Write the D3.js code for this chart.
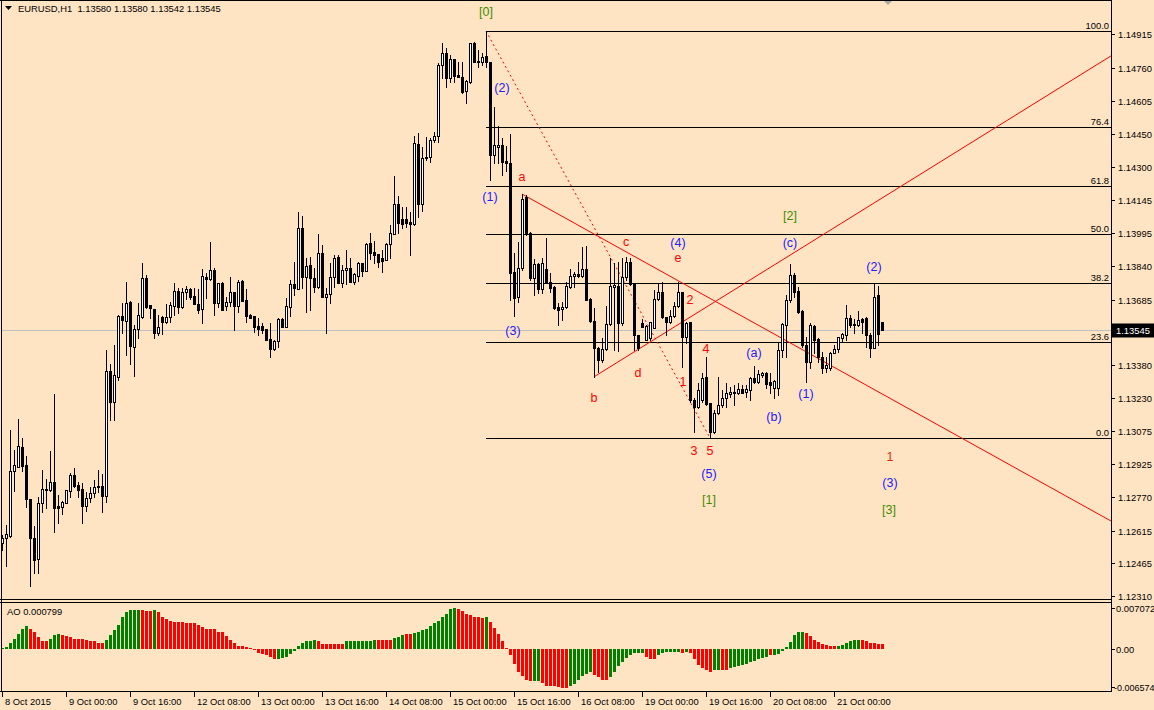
<!DOCTYPE html>
<html><head><meta charset="utf-8">
<script src="https://cdn.jsdelivr.net/npm/d3@7"></script>
<style>
html,body{margin:0;padding:0;background:#FFE4C4;}
svg{display:block;font-family:"Liberation Sans",Arial,sans-serif;}
</style></head>
<body><svg id="c" width="1154" height="710"></svg>
<script>
// ---------------- DATA ----------------
const symbol = "EURUSD,H1";
const lastQuote = ["1.13580","1.13580","1.13542","1.13545"];

const open = [
1.12557,1.12580,1.12589,1.12890,1.12910,1.13002,1.12919,1.12761,1.12580,1.12483,
1.12742,1.12803,1.12803,1.12840,1.12728,1.12724,1.12742,1.12798,1.12872,1.12826,
1.12807,1.12728,1.12766,1.12789,1.12817,1.12821,1.12775,1.13354,1.13211,1.13327,
1.13609,1.13585,1.13674,1.13465,1.13549,1.13604,1.13785,1.13660,1.13641,1.13530,
1.13604,1.13581,1.13604,1.13655,1.13724,1.13651,1.13720,1.13734,1.13701,1.13664,
1.13641,1.13790,1.13780,1.13822,1.13669,1.13762,1.13655,1.13674,1.13720,1.13655,
1.13771,1.13683,1.13614,1.13609,1.13562,1.13562,1.13549,1.13502,1.13456,1.13493,
1.13595,1.13558,1.13651,1.13757,1.13734,1.14017,1.13790,1.13845,1.13785,1.13743,
1.13901,1.13697,1.13711,1.13790,1.13882,1.13762,1.13822,1.13831,1.13767,1.13794,
1.13854,1.13817,1.13947,1.13906,1.13896,1.13878,1.13868,1.13942,1.13988,1.14127,
1.14058,1.14058,1.14045,1.14035,1.14405,1.14127,1.14341,1.14346,1.14424,1.14443,
1.14772,1.14827,1.14712,1.14800,1.14726,1.14717,1.14651,1.14693,1.14874,1.14786,
1.14786,1.14813,1.14786,1.14355,1.14392,1.14401,1.14327,1.14318,1.13813,1.13697,
1.13831,1.14160,1.13993,1.13785,1.13850,1.13734,1.13826,1.13767,1.13743,1.13651,
1.13641,1.13651,1.13743,1.13794,1.13803,1.13794,1.13826,1.13688,1.13585,1.13460,
1.13405,1.13456,1.13572,1.13743,1.13748,1.13576,1.13790,1.13859,1.13762,1.13521,
1.13576,1.13498,1.13507,1.13553,1.13687,1.13720,1.13604,1.13581,1.13609,1.13655,
1.13720,1.13512,1.13581,1.13220,1.13188,1.13220,1.13326,1.13206,1.13072,1.13159,
1.13197,1.13229,1.13247,1.13252,1.13252,1.13270,1.13257,1.13266,1.13321,1.13303,
1.13336,1.13345,1.13303,1.13275,1.13275,1.13451,1.13567,1.13683,1.13799,1.13724,
1.13632,1.13474,1.13396,1.13562,1.13502,1.13419,1.13368,1.13368,1.13437,1.13456,
1.13507,1.13521,1.13600,1.13572,1.13567,1.13595,1.13600,1.13521,1.13460,1.13706,
1.13580];
const high = [
1.12594,1.12641,1.13081,1.12988,1.13131,1.13044,1.12960,1.12761,1.12636,1.12771,
1.12895,1.12853,1.12983,1.13247,1.12780,1.12751,1.12803,1.12881,1.12905,1.12840,
1.12835,1.12794,1.12817,1.12849,1.12895,1.12876,1.13451,1.13386,1.13474,1.13614,
1.13669,1.13767,1.13678,1.13567,1.13669,1.13854,1.13799,1.13660,1.13641,1.13614,
1.13609,1.13664,1.13674,1.13762,1.13739,1.13739,1.13748,1.13739,1.13739,1.13734,
1.13826,1.13808,1.13952,1.13831,1.13762,1.13767,1.13697,1.13790,1.13720,1.13776,
1.13776,1.13734,1.13618,1.13609,1.13600,1.13576,1.13549,1.13576,1.13498,1.13600,
1.13600,1.13692,1.13776,1.13859,1.14091,1.14072,1.13878,1.13882,1.13831,1.13988,
1.13938,1.13739,1.13854,1.13892,1.13892,1.13845,1.13915,1.13878,1.13808,1.13859,
1.13854,1.13947,1.13993,1.13956,1.13896,1.13915,1.13947,1.14031,1.14257,1.14165,
1.14114,1.14114,1.14091,1.14443,1.14457,1.14392,1.14439,1.14434,1.14462,1.14781,
1.14874,1.14851,1.14818,1.14800,1.14786,1.14786,1.14702,1.14874,1.14879,1.14841,
1.14827,1.14929,1.14786,1.14578,1.14489,1.14434,1.14396,1.14452,1.13901,1.13952,
1.14174,1.14170,1.13998,1.13873,1.13854,1.13878,1.13970,1.13808,1.13748,1.13669,
1.13674,1.13767,1.13826,1.13813,1.13859,1.13929,1.13933,1.13692,1.13646,1.13465,
1.13507,1.13655,1.13878,1.13854,1.13859,1.13878,1.13882,1.13878,1.13762,1.13521,
1.13595,1.13567,1.13581,1.13729,1.13762,1.13767,1.13604,1.13637,1.13674,1.13767,
1.13720,1.13581,1.13581,1.13229,1.13298,1.13345,1.13419,1.13206,1.13173,1.13327,
1.13266,1.13298,1.13280,1.13289,1.13298,1.13289,1.13289,1.13327,1.13377,1.13359,
1.13350,1.13350,1.13345,1.13312,1.13484,1.13576,1.13706,1.13850,1.13808,1.13743,
1.13637,1.13512,1.13576,1.13567,1.13507,1.13442,1.13419,1.13442,1.13474,1.13512,
1.13530,1.13660,1.13614,1.13595,1.13632,1.13600,1.13604,1.13530,1.13762,1.13748,
1.13580];
const low = [
1.12525,1.12450,1.12585,1.12798,1.12910,1.12890,1.12724,1.12358,1.12418,1.12418,
1.12701,1.12719,1.12798,1.12608,1.12650,1.12691,1.12742,1.12771,1.12817,1.12771,
1.12650,1.12705,1.12747,1.12771,1.12794,1.12701,1.12747,1.13127,1.13127,1.13312,
1.13530,1.13428,1.13386,1.13331,1.13507,1.13600,1.13646,1.13600,1.13507,1.13521,
1.13525,1.13576,1.13581,1.13614,1.13623,1.13646,1.13687,1.13687,1.13664,1.13623,
1.13576,1.13692,1.13776,1.13614,1.13651,1.13637,1.13637,1.13655,1.13544,1.13628,
1.13678,1.13581,1.13600,1.13535,1.13521,1.13530,1.13498,1.13419,1.13451,1.13465,
1.13558,1.13558,1.13609,1.13706,1.13734,1.13739,1.13628,1.13637,1.13720,1.13739,
1.13697,1.13530,1.13669,1.13743,1.13762,1.13743,1.13757,1.13767,1.13757,1.13771,
1.13794,1.13817,1.13873,1.13854,1.13836,1.13813,1.13868,1.13878,1.13988,1.13993,
1.14017,1.14021,1.13892,1.14031,1.14068,1.14096,1.14332,1.14323,1.14415,1.14415,
1.14712,1.14670,1.14693,1.14693,1.14717,1.14642,1.14596,1.14688,1.14786,1.14763,
1.14772,1.14763,1.14239,1.14318,1.14318,1.14262,1.14281,1.13683,1.13609,1.13674,
1.13822,1.13984,1.13776,1.13706,1.13715,1.13715,1.13762,1.13720,1.13642,1.13567,
1.13590,1.13646,1.13739,1.13743,1.13790,1.13790,1.13683,1.13581,1.13327,1.13350,
1.13396,1.13451,1.13567,1.13451,1.13447,1.13567,1.13776,1.13753,1.13451,1.13451,
1.13558,1.13498,1.13498,1.13553,1.13683,1.13600,1.13521,1.13576,1.13604,1.13651,
1.13373,1.13484,1.13211,1.13072,1.13183,1.13211,1.13197,1.13044,1.13067,1.13154,
1.13188,1.13188,1.13234,1.13197,1.13247,1.13252,1.13234,1.13220,1.13298,1.13298,
1.13327,1.13275,1.13252,1.13229,1.13243,1.13419,1.13419,1.13674,1.13697,1.13623,
1.13465,1.13303,1.13368,1.13437,1.13396,1.13345,1.13350,1.13359,1.13437,1.13442,
1.13489,1.13498,1.13558,1.13530,1.13562,1.13530,1.13465,1.13419,1.13460,1.13474,
1.13542];
const close = [
1.12580,1.12598,1.12890,1.12919,1.13006,1.12914,1.12761,1.12580,1.12478,1.12742,
1.12807,1.12807,1.12840,1.12719,1.12719,1.12747,1.12803,1.12872,1.12821,1.12803,
1.12728,1.12766,1.12789,1.12817,1.12821,1.12775,1.13354,1.13211,1.13336,1.13609,
1.13590,1.13669,1.13470,1.13549,1.13614,1.13785,1.13651,1.13646,1.13530,1.13558,
1.13581,1.13604,1.13660,1.13724,1.13651,1.13720,1.13734,1.13697,1.13664,1.13637,
1.13794,1.13780,1.13822,1.13669,1.13762,1.13637,1.13674,1.13720,1.13655,1.13767,
1.13678,1.13609,1.13600,1.13558,1.13549,1.13544,1.13498,1.13456,1.13493,1.13595,
1.13558,1.13655,1.13757,1.13739,1.14017,1.13790,1.13840,1.13785,1.13743,1.13901,
1.13697,1.13711,1.13790,1.13878,1.13762,1.13822,1.13831,1.13767,1.13803,1.13854,
1.13817,1.13942,1.13901,1.13892,1.13859,1.13863,1.13942,1.13993,1.14127,1.14040,
1.14035,1.14040,1.14035,1.14410,1.14127,1.14341,1.14346,1.14424,1.14443,1.14772,
1.14827,1.14712,1.14800,1.14721,1.14717,1.14647,1.14697,1.14874,1.14786,1.14790,
1.14809,1.14786,1.14355,1.14401,1.14401,1.14323,1.14318,1.13808,1.13692,1.13831,
1.14151,1.13993,1.13785,1.13850,1.13734,1.13854,1.13762,1.13739,1.13646,1.13637,
1.13651,1.13748,1.13794,1.13803,1.13794,1.13826,1.13683,1.13585,1.13460,1.13405,
1.13456,1.13572,1.13748,1.13752,1.13576,1.13790,1.13859,1.13757,1.13521,1.13460,
1.13558,1.13562,1.13581,1.13687,1.13720,1.13604,1.13581,1.13609,1.13655,1.13720,
1.13512,1.13576,1.13220,1.13188,1.13266,1.13321,1.13201,1.13072,1.13159,1.13197,
1.13229,1.13252,1.13257,1.13257,1.13270,1.13252,1.13270,1.13321,1.13303,1.13340,
1.13345,1.13294,1.13289,1.13308,1.13451,1.13572,1.13683,1.13799,1.13720,1.13628,
1.13474,1.13396,1.13567,1.13498,1.13419,1.13368,1.13382,1.13437,1.13456,1.13512,
1.13525,1.13600,1.13567,1.13567,1.13590,1.13581,1.13521,1.13460,1.13697,1.13525,
1.13545];

const ao = [
0.0001,0.0003,0.0010,0.0018,0.0026,0.0034,0.0040,0.0034,0.0029,0.0020,
0.0014,0.0013,0.0018,0.0025,0.0026,0.0024,0.0023,0.0021,0.0018,0.0018,
0.0017,0.0016,0.0014,0.0013,0.0011,0.0011,0.0015,0.0024,0.0032,0.0042,
0.0056,0.0064,0.0067,0.0067,0.0067,0.0067,0.0066,0.0065,0.0067,0.0064,
0.0056,0.0052,0.0048,0.0046,0.0046,0.0046,0.0045,0.0045,0.0045,0.0041,
0.0038,0.0034,0.0034,0.0034,0.0030,0.0029,0.0022,0.0016,0.0010,0.0006,
0.0005,0.0003,0.0002,-0.0002,-0.0007,-0.0009,-0.0010,-0.0013,-0.0017,-0.0017,
-0.0016,-0.0014,-0.0008,-0.0004,0.0005,0.0011,0.0014,0.0014,0.0015,0.0013,
0.0009,0.0009,0.0009,0.0009,0.0009,0.0009,0.0013,0.0013,0.0013,0.0013,
0.0013,0.0013,0.0013,0.0015,0.0016,0.0016,0.0016,0.0016,0.0019,0.0021,
0.0025,0.0026,0.0026,0.0028,0.0029,0.0032,0.0035,0.0040,0.0045,0.0049,
0.0056,0.0061,0.0069,0.0071,0.0069,0.0065,0.0060,0.0058,0.0056,0.0055,
0.0053,0.0055,0.0046,0.0036,0.0026,0.0014,0.0002,-0.0010,-0.0025,-0.0040,
-0.0047,-0.0054,-0.0056,-0.0056,-0.0056,-0.0059,-0.0063,-0.0064,-0.0064,-0.0066,
-0.0067,-0.0068,-0.0064,-0.0061,-0.0053,-0.0047,-0.0043,-0.0040,-0.0044,-0.0049,
-0.0053,-0.0053,-0.0048,-0.0040,-0.0030,-0.0022,-0.0016,-0.0010,-0.0007,-0.0007,
-0.0007,-0.0013,-0.0018,-0.0018,-0.0011,-0.0007,-0.0005,-0.0005,-0.0005,-0.0005,
-0.0007,-0.0005,-0.0007,-0.0018,-0.0027,-0.0033,-0.0036,-0.0039,-0.0037,-0.0036,
-0.0036,-0.0036,-0.0033,-0.0031,-0.0029,-0.0027,-0.0025,-0.0023,-0.0021,-0.0018,
-0.0016,-0.0013,-0.0011,-0.0010,-0.0008,-0.0004,0.0003,0.0012,0.0024,0.0029,
0.0030,0.0028,0.0022,0.0016,0.0012,0.0009,0.0007,0.0006,0.0005,0.0006,
0.0007,0.0010,0.0013,0.0015,0.0016,0.0015,0.0013,0.0010,0.0010,0.0009,
0.000799];
// AO bar colour runs (g = rising, r = falling), as seen on the chart
const aoColorRuns = [["g",7],["r",5],["g",3],["r",11],["g",9],["r",3],["g",1],["r",30],["g",10],["r",7],
["g",8],["r",4],["g",3],["r",2],["g",11],["r",7],["g",1],["r",11],["g",2],["r",7],["g",6],["r",4],
["g",9],["r",3],["g",6],["r",1],["g",1],["r",6],["g",2],["r",2],["g",10],["r",1],["g",8],["r",8],["g",6],["r",6]];

const timeTickBars = [0,16,32,48,64,80,96,112,128,144,160,176,192,208];
const timeTickLabels = ["8 Oct 2015","9 Oct 00:00","9 Oct 16:00","12 Oct 08:00","13 Oct 00:00","13 Oct 16:00",
 "14 Oct 08:00","15 Oct 00:00","15 Oct 16:00","16 Oct 08:00","19 Oct 00:00","19 Oct 16:00","20 Oct 08:00","21 Oct 00:00"];
const priceTicks = [1.14915,1.14760,1.14605,1.14450,1.14300,1.14145,1.13995,1.13840,1.13685,
 1.13380,1.13230,1.13075,1.12925,1.12770,1.12615,1.12465,1.12310];
const aoTicks = [0.007072, 0.0, -0.006574];
const aoTickLabels = ["0.007072","0.00","-0.006574"];

const fibLevels = [0,23.6,38.2,50,61.8,76.4,100];
const fibHighBar = 121, fibLowBar = 177;

// trend lines: [bar1, price1, bar2, price2]
const solidLines = [[130,1.14174,277.25,1.12659],[148,1.13327,277.25,1.14814]];
const dottedLines = [[121,1.14929,177,1.13044]];

// wave labels: [text, bar, price, colour key]
const waveLabels = [
 ["[0]",121,1.15017,"g"],["(2)",125,1.14665,"b"],["(1)",122,1.14160,"b"],["a",130,1.14253,"r"],
 ["(3)",127.75,1.13539,"b"],["b",148,1.13229,"r"],["c",156,1.13952,"r"],["d",159,1.13345,"r"],
 ["(4)",169,1.13947,"b"],["e",169,1.13878,"r"],["2",172,1.13683,"r"],["1",170.25,1.13303,"r"],
 ["4",176,1.13456,"r"],["3",173,1.12984,"r"],["5",177,1.12984,"r"],["(5)",176.75,1.12877,"b"],
 ["[1]",176.75,1.12757,"g"],["(a)",188,1.13438,"b"],["(b)",193,1.13141,"b"],["[2]",197,1.14072,"g"],
 ["(c)",197,1.13947,"b"],["(1)",201,1.13248,"b"],["(2)",218,1.13836,"b"],["1",222,1.12956,"o"],
 ["(3)",222,1.12835,"b"],["[3]",221.75,1.12710,"g"]];

// ---------------- DRAW ----------------
const svg = d3.select("#c");
const BG = "#FFE4C4";
const labelColors = {g:"#3f8c00", b:"#2020ff", r:"#ff0000", o:"#d83000"};
const axisFont = "9.4px";
const plotRight = 1111;

const x = d3.scaleLinear().domain([0,220]).range([2,882]);
const y = d3.scaleLinear().domain([1.12293,1.15073]).range([600,0]);
const ya = d3.scaleLinear().domain([-0.0072,0.0075]).range([690.76,605.5]);

svg.append("rect").attr("width",1154).attr("height",710).attr("fill",BG);

const defs = svg.append("defs");
defs.append("clipPath").attr("id","mainClip").append("rect").attr("x",2).attr("y",1).attr("width",plotRight-2).attr("height",598);

const main = svg.append("g").attr("clip-path","url(#mainClip)");

// current price line
const lastClose = close[close.length-1];
main.append("line").attr("x1",0).attr("x2",plotRight).attr("y1",Math.round(y(lastClose))+0.5).attr("y2",Math.round(y(lastClose))+0.5)
 .attr("stroke","#c0c0c0").attr("stroke-width",1);

// fibonacci
const fibHi = high[fibHighBar], fibLo = low[fibLowBar];
fibLevels.forEach(l=>{
  const p = fibLo + (fibHi-fibLo)*l/100;
  const yy = Math.round(y(p))+0.5;
  main.append("line").attr("x1",Math.round(x(fibHighBar))).attr("x2",plotRight).attr("y1",yy).attr("y2",yy)
    .attr("stroke","#000").attr("stroke-width",1);
  main.append("text").attr("x",1109).attr("y",yy-2.5).attr("text-anchor","end")
    .attr("font-size",axisFont).attr("fill","#000").text(l.toFixed(1));
});

// trend lines
solidLines.forEach(d=>{
  main.append("line").attr("x1",x(d[0])).attr("y1",y(d[1])).attr("x2",x(d[2])).attr("y2",y(d[3]))
   .attr("stroke","#ff0000").attr("stroke-width",1);
});
dottedLines.forEach(d=>{
  main.append("line").attr("x1",x(d[0])).attr("y1",y(d[1])).attr("x2",x(d[2])).attr("y2",y(d[3]))
   .attr("stroke","#ff0000").attr("stroke-width",1).attr("stroke-dasharray","2,3");
});

// candles
const idx = d3.range(open.length);
const cg = main.append("g");
idx.forEach(i=>{
  const cx = Math.round(x(i));
  const yh = Math.round(y(high[i])), yl = Math.round(y(low[i]));
  cg.append("rect").attr("x",cx).attr("y",yh).attr("width",1).attr("height",Math.max(1,yl-yh+1)).attr("fill","#000");
  const bt = Math.round(y(Math.max(open[i],close[i]))), bb = Math.round(y(Math.min(open[i],close[i])));
  cg.append("rect").attr("x",cx-1).attr("y",bt).attr("width",3).attr("height",Math.max(1,bb-bt+1)).attr("fill","#000");
  if (close[i] > open[i] && bb-bt >= 2) {
    cg.append("rect").attr("x",cx).attr("y",bt+1).attr("width",1).attr("height",bb-bt-1).attr("fill","#fff");
  }
});

// wave labels
waveLabels.forEach(d=>{
  main.append("text").attr("x",x(d[1])).attr("y",y(d[2])+4.3).attr("text-anchor","middle")
   .attr("font-size","12.5px").attr("fill",labelColors[d[3]]).text(d[0]);
});

// shift marker
svg.append("path").attr("d","M883,0 L893,0 L888,5 Z").attr("fill","#a8a8a8");

// AO histogram
const aoCol = [];
aoColorRuns.forEach(r=>{ for(let k=0;k<r[1];k++) aoCol.push(r[0]); });
const ag = svg.append("g");
const y0 = ya(0);
idx.forEach(i=>{
  const cx = Math.round(x(i));
  const yv = ya(ao[i]);
  const top = Math.round(Math.min(yv,y0)), bot = Math.round(Math.max(yv,y0));
  ag.append("rect").attr("x",cx-1).attr("y",top).attr("width",3).attr("height",Math.max(1,bot-top))
    .attr("fill", aoCol[i]==="g" ? "#008000" : "#ff0000");
});

// frames
const frame = svg.append("g").attr("stroke","#000").attr("stroke-width",1).attr("shape-rendering","crispEdges");
frame.append("line").attr("x1",0).attr("x2",plotRight).attr("y1",0.5).attr("y2",0.5);
frame.append("line").attr("x1",1.5).attr("x2",1.5).attr("y1",0).attr("y2",692);
frame.append("line").attr("x1",plotRight+0.5).attr("x2",plotRight+0.5).attr("y1",0).attr("y2",692);
frame.append("line").attr("x1",0).attr("x2",plotRight).attr("y1",599.5).attr("y2",599.5);
frame.append("line").attr("x1",0).attr("x2",plotRight).attr("y1",602.5).attr("y2",602.5);
frame.append("line").attr("x1",0).attr("x2",plotRight).attr("y1",691.5).attr("y2",691.5);

// price axis
priceTicks.forEach(p=>{
  const yy = Math.round(y(p))+0.5;
  frame.append("line").attr("x1",plotRight).attr("x2",plotRight+4).attr("y1",yy).attr("y2",yy);
  svg.append("text").attr("x",1118).attr("y",yy+3.5).attr("font-size",axisFont).attr("fill","#000").text(p.toFixed(5));
});
// current price tag
const yc = Math.round(y(lastClose))+0.5;
svg.append("rect").attr("x",plotRight+1).attr("y",yc-7).attr("width",1154-plotRight-1).attr("height",14).attr("fill","#000");
svg.append("text").attr("x",1116).attr("y",yc+3.5).attr("font-size",axisFont).attr("fill","#fff").text(lastClose.toFixed(5));

// AO axis
aoTicks.forEach((v,k)=>{
  const yy = Math.round(ya(v))+0.5;
  frame.append("line").attr("x1",plotRight).attr("x2",plotRight+4).attr("y1",yy).attr("y2",yy);
  svg.append("text").attr("x",v<0?1114:1116).attr("y",yy+3.5).attr("font-size",v<0?"9px":axisFont).attr("fill","#000").text(aoTickLabels[k]);
});
svg.append("text").attr("x",7).attr("y",615).attr("font-size",axisFont).attr("fill","#000")
  .text("AO " + ao[ao.length-1].toFixed(6));

// time axis
timeTickBars.forEach((b,k)=>{
  const xx = Math.round(x(b))+0.5;
  frame.append("line").attr("x1",xx).attr("x2",xx).attr("y1",692).attr("y2",697);
  svg.append("text").attr("x",xx+2.5).attr("y",705).attr("font-size",axisFont).attr("fill","#000").text(timeTickLabels[k]);
});

// header
svg.append("path").attr("d","M5,6 L12,6 L8.5,10 Z").attr("fill","#000");
svg.append("text").attr("x",18).attr("y",11.5).attr("font-size",axisFont).attr("fill","#000")
  .attr("xml:space","preserve").text(symbol + "  " + lastQuote.join(" "));
</script>
</body></html>
